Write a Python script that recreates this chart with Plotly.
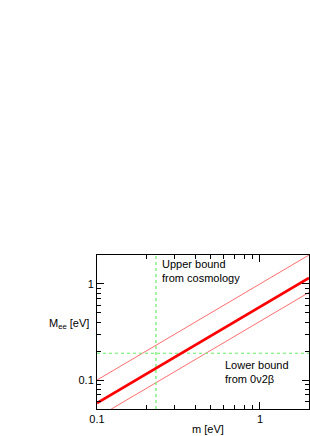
import math
import plotly.graph_objects as go

# data
m_vals = [0.1, 2.0]
upper_line = [0.1, 2.0]          # M_ee = m
central_line = [0.0577, 1.155]   # M_ee = m/sqrt(3)
lower_line = [0.0408, 0.816]     # M_ee = m/sqrt(6)
cosmo_bound = 0.23               # vertical dashed line, m [eV]
dbd_bound = 0.19                 # horizontal dashed line, M_ee [eV]
x_range = [0.1, 2.0]
y_range = [0.05, 2.0]
tick_vals = [0.1, 1]
tick_text = ["0.1", "1"]
x_minor = [0.2, 0.3, 0.4, 0.5, 0.6, 0.7, 0.8, 0.9, 2]
y_minor = [0.06, 0.07, 0.08, 0.09, 0.2, 0.3, 0.4, 0.5, 0.6, 0.7, 0.8, 0.9, 2]

FONT = "Liberation Sans, Arial, Helvetica, sans-serif"
thin_red = "#ff6e6e"
green = "#66ee66"

fig = go.Figure()
fig.add_trace(go.Scatter(x=m_vals, y=upper_line, mode="lines",
                         line=dict(color=thin_red, width=1), showlegend=False))
fig.add_trace(go.Scatter(x=m_vals, y=lower_line, mode="lines",
                         line=dict(color=thin_red, width=1), showlegend=False))
fig.add_trace(go.Scatter(x=[cosmo_bound, cosmo_bound], y=y_range, mode="lines",
                         line=dict(color=green, width=1.2, dash="3px,3px"), showlegend=False))
fig.add_trace(go.Scatter(x=x_range, y=[dbd_bound, dbd_bound], mode="lines",
                         line=dict(color=green, width=1.2, dash="3px,3px"), showlegend=False))
fig.add_trace(go.Scatter(x=m_vals, y=central_line, mode="lines",
                         line=dict(color="#ff0000", width=2.6), showlegend=False))

axis_common = dict(
    type="log", showgrid=False, zeroline=False,
    showline=True, linecolor="black", linewidth=1, mirror="allticks",
    ticks="inside", ticklen=7, tickcolor="black", tickwidth=1,
    tickmode="array", tickvals=tick_vals, ticktext=tick_text,
    tickfont=dict(family=FONT, size=11, color="black"),
)

fig.update_xaxes(**axis_common, range=[math.log10(x_range[0]), math.log10(x_range[1])],
                 minor=dict(tickmode="array", tickvals=x_minor, ticks="inside",
                            ticklen=4, tickcolor="black", showgrid=False))
fig.update_yaxes(**axis_common, range=[math.log10(y_range[0]), math.log10(y_range[1])],
                 minor=dict(tickmode="array", tickvals=y_minor, ticks="inside",
                            ticklen=4, tickcolor="black", showgrid=False))

fig.add_annotation(x=math.log10(0.245), y=math.log10(1.95), xref="x", yref="y",
                   text="Upper bound<br>from cosmology", showarrow=False,
                   xanchor="left", yanchor="top", align="left",
                   font=dict(family=FONT, size=11, color="black"))
fig.add_annotation(x=math.log10(0.595), y=math.log10(0.175), xref="x", yref="y",
                   text="Lower bound<br>from 0ν2β", showarrow=False,
                   xanchor="left", yanchor="top", align="left",
                   font=dict(family=FONT, size=11, color="black"))
fig.add_annotation(x=-50/212, y=0.552, xref="paper", yref="paper",
                   text="M<sub>ee</sub> [eV]", showarrow=False,
                   xanchor="left", yanchor="middle",
                   font=dict(family=FONT, size=11, color="black"))
fig.add_annotation(x=0.525, y=-20/154, xref="paper", yref="paper",
                   text="m [eV]", showarrow=False,
                   xanchor="center", yanchor="middle",
                   font=dict(family=FONT, size=11, color="black"))

fig.update_layout(
    width=310, height=436,
    margin=dict(l=97, r=1, t=255, b=27, pad=0),
    paper_bgcolor="white", plot_bgcolor="white",
    font=dict(family=FONT, size=11, color="black"),
)

# remove the page's default body margin so the figure fills the window exactly
fig.write_html(
    "out.html",
    config={"displayModeBar": False},
    post_script="document.body.style.margin='0';"
                "document.documentElement.style.overflow='hidden';"
                "document.body.style.overflow='hidden';",
)
